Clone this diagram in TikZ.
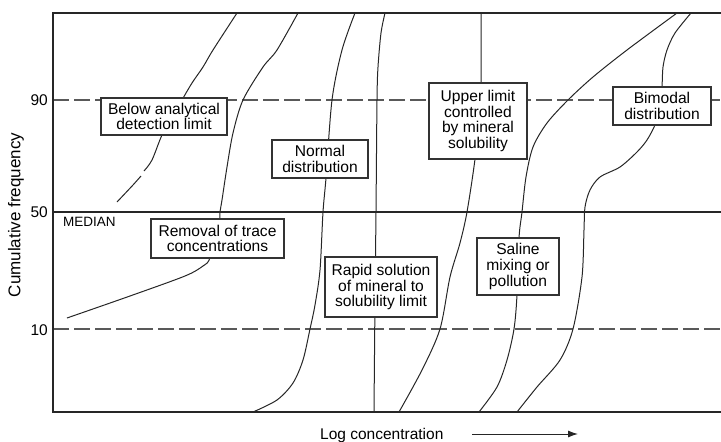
\documentclass[tikz,border=0pt]{standalone}
\usepackage{fontspec}
\setmainfont{Liberation Sans}
\usetikzlibrary{arrows.meta}
\begin{document}
\begin{tikzpicture}[x=1pt, y=-1pt,
    ink/.style={draw=black!85, line width=1.3pt},
    curve/.style={draw=black!85, line width=1pt},
    level/.style={draw=black!65, line width=1.8pt, dash pattern=on 16pt off 5pt},
    note/.style={draw=black!80, line width=1.2pt, fill=white, align=center, inner sep=0pt, font=\fontsize{15.6}{15.6}\selectfont},
    tick/.style={anchor=east, inner sep=0pt, font=\fontsize{15.5}{15.5}\selectfont}]
    \useasboundingbox (0,0) rectangle (721,442);

    \draw[level] (53,100) -- (721,100);
    \draw[ink] (53,212) -- (721,212);
    \draw[level] (53,329) -- (721,329);
    \draw[ink] (721,13) -- (53,13) -- (53,412) -- (721,412);

    \draw[curve] plot[smooth] coordinates {(237,13) (213,50) (203,67) (192,83) (182,100) (172,118) (162,135) (152,160) (144,171)};
    \draw[curve] plot[smooth] coordinates {(141,176) (133,185) (117,202)};
    \draw[curve] plot[smooth] coordinates {(298,13) (277,50) (263,67) (243,100) (233,133) (227,167) (222,200) (220,212) (219,225) (210,258) (203,266) (185,276) (130,296) (67,318)};
    \draw[curve] plot[smooth] coordinates {(355,13) (342,50) (332,100) (326,178) (323,212) (320,270) (315,305) (310,329) (303,360) (293,383) (277,400) (253,412)};
    \draw[curve] plot[smooth] coordinates {(385,13) (381,33) (378,67) (377,100) (376,212) (375,300) (374,412)};
    \draw[curve] plot[smooth] coordinates {(481,13) (481,83) (478,121) (475,159) (467,212) (460,243) (450,277) (440,329) (422,370) (399,412)};
    \draw[curve] plot[smooth] coordinates {(677,13) (627,50) (593,77) (568,100) (547,123) (533,147) (526,177) (522,212) (519,238) (517,295) (514,329) (507,360) (497,387) (479,412)};
    \draw[curve] plot[smooth] coordinates {(691,13) (675,33) (667,50) (663,67) (662,87) (660,110) (655,125) (647,140) (637,152) (620,167) (600,177) (590,190) (585,207) (584,230) (582,277) (573,329) (560,360) (537,387) (517,412)};

    \node[note, minimum width=126pt, minimum height=37pt] (detect) at (164,116.5) {Below analytical\\detection limit};
    \node[note, minimum width=96pt, minimum height=38pt] (normal) at (320,159) {Normal\\distribution};
    \node[note, minimum width=98pt, minimum height=76pt] (upper) at (478,121) {Upper limit\\controlled\\by mineral\\solubility};
    \node[note, minimum width=98pt, minimum height=38pt] (bimodal) at (662,106) {Bimodal\\distribution};
    \node[note, minimum width=133pt, minimum height=39pt] (removal) at (217.5,238.5) {Removal of trace\\concentrations};
    \node[note, minimum width=112pt, minimum height=60pt] (rapid) at (381,287) {Rapid solution\\of mineral to\\solubility limit};
    \node[note, minimum width=82pt, minimum height=57pt] (saline) at (518,266.5) {Saline\\mixing or\\pollution};

    \node[tick] (t90) at (48,100) {90};
    \node[tick] (t50) at (48,212) {50};
    \node[tick] (t10) at (48,330) {10};
    \node[anchor=west, inner sep=0pt, font=\fontsize{13.5}{13.5}\selectfont] (median) at (63,222) {MEDIAN};
    \node[rotate=90, inner sep=0pt, font=\fontsize{17}{17}\selectfont] (ylab) at (16,215) {Cumulative frequency};
    \node[anchor=base west, inner sep=0pt, font=\fontsize{15.5}{15.5}\selectfont] (xlab) at (320,439) {Log concentration};
    \coordinate (arrowtail) at (472,434);
    \coordinate (arrowhead) at (578,434);
    \draw[curve, -{Latex[length=10pt, width=7pt]}] (arrowtail) -- (arrowhead);
\end{tikzpicture}
\end{document}
